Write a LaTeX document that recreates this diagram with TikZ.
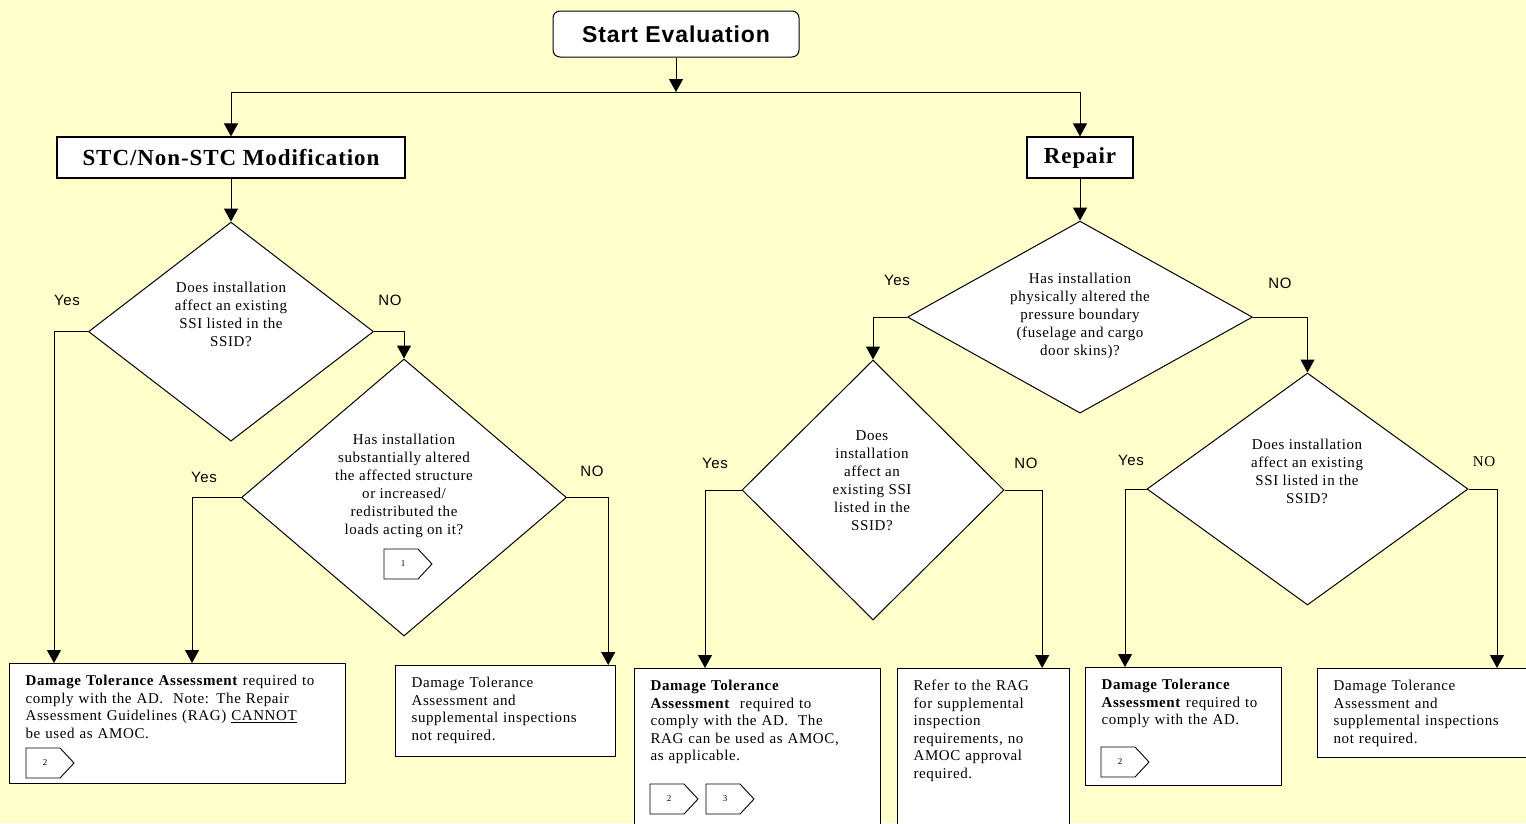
\documentclass[tikz,border=0pt]{standalone}
\usepackage{fontspec}
\setmainfont{Liberation Serif}[LetterSpace=4]
\newfontfamily\arialfont{Liberation Sans}[LetterSpace=4]
\usetikzlibrary{positioning,shapes.geometric,arrows.meta}
\definecolor{paleyellow}{HTML}{FFFFCC}

% small numbered pointer
\newcommand{\chevron}[3]{%
  \draw[fill=white, line width=0.9pt] (#2) -- ++(34,0) -- ++(14,15) -- ++(-14,15) -- ++(-34,0) -- cycle;
  \path (#2) ++(19,15) node[chevnum] (#1) {#3};}

\begin{document}
\begin{tikzpicture}[x=1pt, y=-1pt,
  startbox/.style={draw, fill=white, rounded corners=7pt, line width=1pt, minimum width=246pt, minimum height=46pt, font=\arialfont\bfseries\fontsize{23}{23}\selectfont},
  branchbox/.style={draw, fill=white, line width=1.2pt, minimum height=41pt, font=\bfseries\fontsize{23}{23}\selectfont},
  decision/.style={diamond, draw, fill=white, line width=1pt, inner sep=0pt},
  question/.style={align=center, font=\fontsize{15}{18}\selectfont},
  outcome/.style={draw, fill=white, line width=1.2pt, anchor=north west, align=left, inner xsep=16pt, inner ysep=0pt, text height=22pt, font=\fontsize{15}{17.5}\selectfont},
  answer/.style={font=\arialfont\fontsize{15}{15}\selectfont},
  chevnum/.style={font=\fontsize{9}{9}\selectfont, inner sep=0pt},
  arr/.style={line width=1pt, -{Triangle[width=14pt,length=13pt]}}]

  \useasboundingbox (0,0) rectangle (1526,823);
  \fill[paleyellow] (0,0) rectangle (1526,823);

  % Define nodes
  \node[startbox] (start) at (676,34) {Start Evaluation};
  \node[branchbox, minimum width=348pt] (stc) at (231,157.5) {STC/Non-STC Modification};
  \node[branchbox, minimum width=106pt] (repair) at (1080,157.5) {Repair};

  \node[decision, minimum width=285pt, minimum height=219pt, below=43pt of stc] (d1) {};
  \node[decision, minimum width=325pt, minimum height=277pt] (d2) at (404,497.5) {};
  \node[decision, minimum width=345pt, minimum height=192pt, below=42pt of repair] (d3) {};
  \node[decision, minimum width=262pt, minimum height=260pt] (d4) at (873,490) {};
  \node[decision, minimum width=321pt, minimum height=232pt] (d5) at (1307.5,489) {};

  \node[question] (q1) at (231,314) {Does installation\\affect an existing\\SSI listed in the\\SSID?};
  \node[question] (q2) at (404,486) {Has installation\\substantially altered\\the affected structure\\or increased/\\redistributed the\\loads acting on it?};
  \node[question] (q3) at (1080,316) {Has installation\\physically altered the\\pressure boundary\\(fuselage and cargo\\door skins)?};
  \node[question] (q4) at (872,481) {Does\\installation\\affect an\\existing SSI\\listed in the\\SSID?};
  \node[question] (q5) at (1307,471) {Does installation\\affect an existing\\SSI listed in the\\SSID?};

  \node[answer] (y1) at (67,300) {Yes};
  \node[answer] (n1) at (390,300) {NO};
  \node[answer] (y2) at (204,477) {Yes};
  \node[answer] (n2) at (592,471) {NO};
  \node[answer] (y3) at (897,280) {Yes};
  \node[answer] (n3) at (1280,283) {NO};
  \node[answer] (y4) at (715,463) {Yes};
  \node[answer] (n4) at (1026,463) {NO};
  \node[answer] (y5) at (1131,460) {Yes};
  \node[font=\fontsize{15}{15}\selectfont] (n5) at (1484,462) {NO};

  \node[outcome, text width=304pt, text depth=98pt] (o1) at (9,663) {\textbf{Damage Tolerance Assessment} required to\\comply with the AD.\ \ Note: The Repair\\Assessment Guidelines (RAG) \underline{CANNOT}\\be used as AMOC.};
  \node[outcome, text width=188pt, text depth=69pt] (o2) at (395,665) {Damage Tolerance\\Assessment and\\supplemental inspections\\not required.};
  \node[outcome, text width=214pt, text depth=145pt] (o3) at (634,668) {\textbf{Damage Tolerance}\\\textbf{Assessment}\ \ required to\\comply with the AD.\ \ The\\RAG can be used as AMOC,\\as applicable.};
  \node[outcome, text width=140pt, text depth=145pt] (o4) at (897,668) {Refer to the RAG\\for supplemental\\inspection\\requirements, no\\AMOC approval\\required.};
  \node[outcome, text width=164pt, text depth=96pt] (o5) at (1085,667) {\textbf{Damage Tolerance}\\\textbf{Assessment} required to\\comply with the AD.};
  \node[outcome, text width=191pt, text depth=67pt] (o6) at (1317,668) {Damage Tolerance\\Assessment and\\supplemental inspections\\not required.};

  \chevron{c1}{384,549}{1}
  \chevron{c2}{26,748}{2}
  \chevron{c3}{650,784}{2}
  \chevron{c4}{706,784}{3}
  \chevron{c5}{1101,747}{2}

  % Connect the nodes
  \coordinate (split) at (676,92);
  \draw[arr] (start.south) -- (split);
  \draw[arr] (split) -| (stc.north);
  \draw[arr] (split) -| (repair.north);
  \draw[arr] (stc) -- (d1);
  \draw[arr] (repair) -- (d3);
  \draw[arr] (d1.west) -| ([xshift=45pt]o1.north west);
  \draw[arr] (d1.east) -| (d2.north);
  \draw[arr] (d2.west) -| ([xshift=183pt]o1.north west);
  \draw[arr] (d2.east) -| ([xshift=-8pt]o2.north east);
  \draw[arr] (d3.west) -| (d4.north);
  \draw[arr] (d3.east) -| (d5.north);
  \draw[arr] (d4.west) -| ([xshift=71pt]o3.north west);
  \draw[arr] (d4.east) -| ([xshift=-28pt]o4.north east);
  \draw[arr] (d5.west) -| ([xshift=40pt]o5.north west);
  \draw[arr] (d5.east) -| ([xshift=180pt]o6.north west);

\end{tikzpicture}
\end{document}
